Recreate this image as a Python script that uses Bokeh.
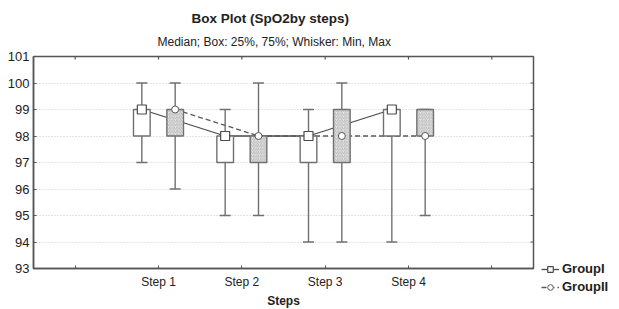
from bokeh.plotting import figure
from bokeh.models import Range1d, FixedTicker, Title, Legend, LegendItem
from bokeh.embed import file_html
from bokeh.resources import INLINE

# ---------------- data ----------------
steps = ["Step 1", "Step 2", "Step 3", "Step 4"]

g1_min = [97, 95, 94, 94]
g1_q1 = [98, 97, 97, 98]
g1_med = [99, 98, 98, 99]
g1_q3 = [99, 98, 98, 99]
g1_max = [100, 99, 99, 99]

g2_min = [96, 95, 94, 95]
g2_q1 = [98, 97, 97, 98]
g2_med = [99, 98, 98, 98]
g2_q3 = [99, 98, 99, 99]
g2_max = [100, 100, 100, 99]

group_names = ["GroupI", "GroupII"]
y_ticks = [93, 94, 95, 96, 97, 98, 99, 100, 101]
title_text = "Box Plot (SpO2by steps)"
subtitle_text = "Median;  Box: 25%, 75%;  Whisker: Min, Max"
x_label = "Steps"

# ---------------- layout / style ----------------
FONT = "Liberation Sans"
AX = "#555555"
BOX = "#707070"
TXT = "#222222"
C1 = "#4a4a4a"
C2 = "#5a5a5a"
OFF = 0.2
HALF = 0.1
CAP = 0.066
FW, FH = 500, 212

xc = [i + 1 for i in range(len(steps))]
x_ticks = [0] + xc + [len(steps) + 1]
overrides = {t: "" for t in x_ticks}
for i, s in enumerate(steps):
    overrides[xc[i]] = s

X0, X1, Y0, Y1 = -0.5, len(steps) + 1.5, 93, 101

p = figure(frame_width=FW, frame_height=FH, x_range=Range1d(X0, X1),
           y_range=Range1d(Y0, Y1), output_backend="svg",
           toolbar_location=None, title=None,
           min_border_left=33, min_border_right=86,
           min_border_top=56, min_border_bottom=41)
p.outline_line_color = AX
p.outline_line_width = 1.5
p.background_fill_color = "white"

# axes
p.xaxis.ticker = FixedTicker(ticks=x_ticks)
p.xaxis.major_label_overrides = overrides
p.yaxis.ticker = FixedTicker(ticks=y_ticks)
for ax in (p.xaxis[0], p.yaxis[0]):
    ax.axis_line_color = AX
    ax.axis_line_width = 1.5
    ax.major_tick_line_color = AX
    ax.major_tick_in = 3
    ax.major_tick_out = 0
    ax.minor_tick_line_color = None
    ax.major_label_text_font = FONT
    ax.major_label_text_color = TXT
p.xaxis.major_label_text_font_size = "12px"
p.yaxis.major_label_text_font_size = "13px"
p.xaxis.major_label_standoff = 6
p.yaxis.major_label_standoff = 4
p.xaxis.axis_label = x_label
p.xaxis.axis_label_text_font = FONT
p.xaxis.axis_label_text_font_style = "bold"
p.xaxis.axis_label_text_font_size = "12px"
p.xaxis.axis_label_text_color = TXT
p.xaxis.axis_label_standoff = 2

# grid
p.xgrid.grid_line_color = None
p.ygrid.ticker = FixedTicker(ticks=y_ticks)
p.ygrid.grid_line_color = "#c8c8c8"
p.ygrid.grid_line_dash = "1 2"
p.ygrid.grid_line_width = 1

# inward ticks on the top and right edges of the frame
tx = 3 / (FW / (X1 - X0))
ty = 3 / (FH / (Y1 - Y0))
p.segment(x0=x_ticks, y0=[Y1] * len(x_ticks), x1=x_ticks,
          y1=[Y1 - ty] * len(x_ticks), line_color=AX, line_width=1.2)
p.segment(x0=[X1] * len(y_ticks), y0=y_ticks, x1=[X1 - tx] * len(y_ticks),
          y1=y_ticks, line_color=AX, line_width=1.2)

# ---------------- glyphs ----------------
x1 = [x - OFF for x in xc]
x2 = [x + OFF for x in xc]

# median connecting lines
l1 = p.line(x1, g1_med, line_color=C1, line_width=1.3)
l2 = p.line(x2, g2_med, line_color=C2, line_width=1.3, line_dash="5 3")

# whiskers
for xs, lo, hi in ((x1, g1_min, g1_max), (x2, g2_min, g2_max)):
    p.segment(x0=xs, y0=lo, x1=xs, y1=hi, line_color=BOX, line_width=1.4)
    p.segment(x0=[x - CAP for x in xs], y0=lo, x1=[x + CAP for x in xs],
              y1=lo, line_color=BOX, line_width=1.4)
    p.segment(x0=[x - CAP for x in xs], y0=hi, x1=[x + CAP for x in xs],
              y1=hi, line_color=BOX, line_width=1.4)

# boxes
p.quad(left=[x - HALF for x in x1], right=[x + HALF for x in x1],
       bottom=g1_q1, top=g1_q3, fill_color="white", line_color=BOX,
       line_width=1.4)
p.quad(left=[x - HALF for x in x2], right=[x + HALF for x in x2],
       bottom=g2_q1, top=g2_q3, fill_color="#e6e6e6", line_color=BOX,
       line_width=1.4, hatch_pattern="/", hatch_color="#999999",
       hatch_scale=3.5, hatch_weight=0.6)

# median markers
s1 = p.scatter(x1, g1_med, marker="square", size=9, fill_color="white",
               line_color=C1, line_width=1.2)
s2 = p.scatter(x2, g2_med, marker="circle", size=7, fill_color="white",
               line_color=C2, line_width=1.0)

# ---------------- titles ----------------
p.add_layout(Title(text=subtitle_text, align="left", offset=124,
                   text_font=FONT, text_font_size="12px",
                   text_font_style="normal", text_color=TXT, standoff=15),
             "above")
p.add_layout(Title(text=title_text, align="left", offset=158,
                   text_font=FONT, text_font_size="13.5px",
                   text_font_style="bold", text_color=TXT, standoff=0),
             "above")

# ---------------- legend ----------------
legend = Legend(items=[LegendItem(label=group_names[0], renderers=[l1, s1]),
                       LegendItem(label=group_names[1], renderers=[l2, s2])],
                location=(8, -26), orientation="vertical",
                background_fill_alpha=0, border_line_alpha=0, padding=0,
                margin=0, spacing=3, glyph_width=18, glyph_height=14,
                label_height=14, label_standoff=3, label_text_font=FONT,
                label_text_font_style="bold", label_text_font_size="13px",
                label_text_color=TXT)
p.add_layout(legend, "right")

open("out.html", "w").write(file_html(p, INLINE))
